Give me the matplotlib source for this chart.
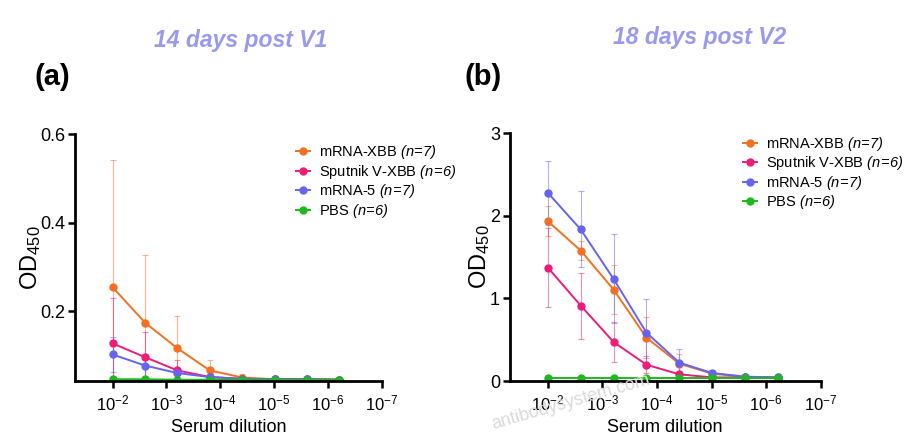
import matplotlib.pyplot as plt

plt.rcParams['font.family'] = ['Liberation Sans', 'DejaVu Sans']
plt.rcParams['mathtext.fontset'] = 'custom'
plt.rcParams['mathtext.rm'] = 'Liberation Sans'
plt.rcParams['mathtext.it'] = 'Liberation Sans:italic'
# sf slot used for fully italic "(n=7)" (the it slot keeps digits upright)
plt.rcParams['mathtext.sf'] = 'Liberation Sans:italic'

dilution = [1/100, 1/400, 1/1600, 1/6400, 1/25600, 1/102400, 1/409600, 1/1638400]
groups = ["mRNA-XBB", "Sputnik V-XBB", "mRNA-5", "PBS"]
group_n = [7, 6, 7, 6]
colors = ['#F37021', '#EC1C78', '#6464F0', '#1DB91D']

# panel (a): 14 days post V1
a_mean = [
    [0.254, 0.174, 0.116, 0.066, 0.050, 0.046, 0.046, 0.045],
    [0.127, 0.096, 0.066, 0.051, 0.047, 0.046, 0.046, 0.045],
    [0.102, 0.077, 0.060, 0.051, 0.047, 0.046, 0.046, 0.045],
    [0.046, 0.046, 0.045, 0.045, 0.045, 0.045, 0.045, 0.045],
]
a_err = [
    [0.288, 0.152, 0.074, 0.023, 0.009, 0.003, 0.003, 0.002],
    [0.102, 0.056, 0.023, 0.006, 0.003, 0.002, 0.002, 0.002],
    [0.039, 0.027, 0.010, 0.004, 0.002, 0.002, 0.002, 0.002],
    [0.002, 0.002, 0.002, 0.002, 0.002, 0.002, 0.002, 0.002],
]

# panel (b): 18 days post V2
b_mean = [
    [1.937, 1.580, 1.108, 0.526, 0.210, 0.089, 0.050, 0.044],
    [1.375, 0.914, 0.473, 0.198, 0.081, 0.044, 0.044, 0.040],
    [2.280, 1.836, 1.237, 0.586, 0.222, 0.097, 0.053, 0.044],
    [0.040, 0.040, 0.040, 0.040, 0.040, 0.040, 0.040, 0.040],
]
b_err = [
    [0.18, 0.12, 0.30, 0.25, 0.12, 0.03, 0.01, 0.005],
    [0.48, 0.40, 0.24, 0.10, 0.03, 0.01, 0.005, 0.005],
    [0.39, 0.46, 0.54, 0.41, 0.16, 0.04, 0.01, 0.005],
    [0.005, 0.005, 0.005, 0.005, 0.005, 0.005, 0.005, 0.005],
]

titles = ["14 days post V1", "18 days post V2"]
letters = ["(a)", "(b)"]

fig = plt.figure(figsize=(9.1, 4.4), dpi=100)
ax_a = fig.add_axes([0.0824, 0.134, 0.337, 0.561])
ax_b = fig.add_axes([0.560, 0.134, 0.342, 0.563])


def draw_panel(ax, means, errs, ylim, yticks, ytick_labels, legend_xy, ylab_x):
    handles = []
    labels = []
    for i in range(len(groups)):
        cont = ax.errorbar(dilution, means[i], yerr=errs[i], color=colors[i],
                           ecolor=colors[i], elinewidth=0.8, capsize=2.5,
                           capthick=0.8, marker='o', markersize=5, lw=1.4)
        line, caps, bars = cont
        for c in caps:
            c.set_alpha(0.5)
        for b in bars:
            b.set_alpha(0.5)
        handles.append(line)
        labels.append(groups[i] + r" $\mathsf{(n\!=\!%d)}$" % group_n[i])
    ax.set_xscale('log')
    ax.set_xlim(10**-1.3, 1e-7)
    ax.set_xticks([1e-2, 1e-3, 1e-4, 1e-5, 1e-6, 1e-7])
    ax.set_xticklabels([r"10$^{-%d}$" % k for k in range(2, 8)])
    ax.minorticks_off()
    ax.set_ylim(*ylim)
    ax.set_yticks(yticks)
    ax.set_yticklabels(ytick_labels)
    ax.spines['top'].set_visible(False)
    ax.spines['right'].set_visible(False)
    ax.spines['left'].set_linewidth(2)
    ax.spines['bottom'].set_linewidth(2)
    ax.tick_params(axis='both', width=1.8, length=5, direction='out')
    ax.tick_params(axis='x', labelsize=12, pad=4)
    ax.tick_params(axis='y', labelsize=13, pad=2)
    ax.set_xlabel("Serum dilution", fontsize=13, labelpad=4)
    ax.set_ylabel(r"OD$_{450}$", fontsize=17)
    ax.yaxis.set_label_coords(ylab_x, 0.5)
    ax.legend(handles, labels, loc='upper left',
              bbox_to_anchor=legend_xy, frameon=False,
              fontsize=10.5, handlelength=1.0, handletextpad=0.6,
              labelspacing=0.1, borderaxespad=0.0, borderpad=0.2)


draw_panel(ax_a, a_mean, a_err, (0.042, 0.6), [0.2, 0.4, 0.6],
           ["0.2", "0.4", "0.6"], (0.71, 0.975), -0.104)
draw_panel(ax_b, b_mean, b_err, (0, 3), [0, 1, 2, 3],
           ["0", "1", "2", "3"], (0.74, 1.005), -0.055)

fig.text(0.264, 0.907, titles[0], color='#9999EE', fontsize=16.5,
         fontweight='bold', style='italic', ha='center', va='center')
fig.text(0.769, 0.914, titles[1], color='#9999EE', fontsize=16.5,
         fontweight='bold', style='italic', ha='center', va='center')
fig.text(0.038, 0.825, letters[0], fontsize=21, fontweight='bold', va='center')
fig.text(0.510, 0.825, letters[1], fontsize=21, fontweight='bold', va='center')

fig.text(0.627, 0.085, "antibodysystem.com", color='#DADADA', fontsize=13,
         rotation=16, ha='center', va='center')

fig.savefig("out.png", dpi=100, facecolor='white')
